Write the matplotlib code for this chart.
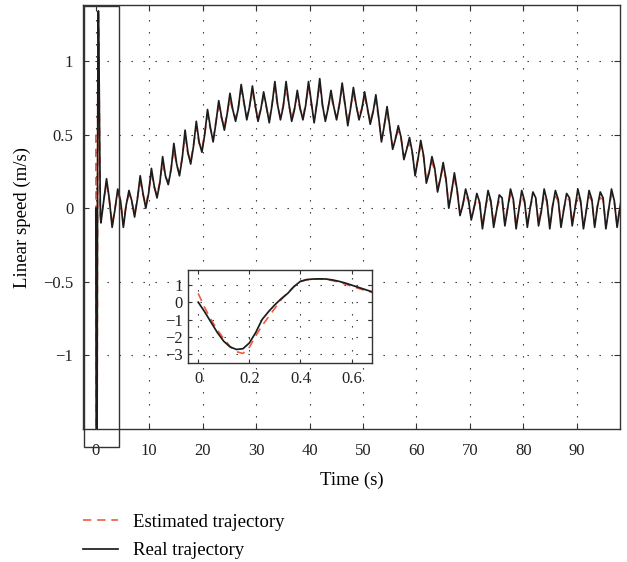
#!/usr/bin/env python3
import numpy as np
import matplotlib
matplotlib.use("Agg")
import matplotlib.pyplot as plt
from matplotlib.patches import Rectangle

# start-up transient (s)
t_start = [0.0, 0.025, 0.05, 0.075, 0.1, 0.125, 0.15, 0.175, 0.2, 0.225, 0.25, 0.275,
           0.3, 0.325, 0.35, 0.375, 0.4, 0.425, 0.45, 0.475, 0.5, 0.525, 0.55, 0.575,
           0.6, 0.625, 0.65, 0.675, 0.75, 0.85]
real_start = [0.0, -0.55, -1.15, -1.75, -2.25, -2.58, -2.72, -2.68, -2.35, -1.75, -1.0, -0.55,
              -0.15, 0.2, 0.5, 0.9, 1.2, 1.3, 1.33, 1.34, 1.33, 1.28, 1.2, 1.1,
              0.98, 0.86, 0.74, 0.62, 0.3, -0.05]
est_start = [0.5, -0.3, -1.0, -1.6, -2.1, -2.55, -2.85, -2.95, -2.6, -1.95, -1.35, -0.85,
             -0.35, 0.15, 0.55, 0.9, 1.18, 1.28, 1.32, 1.33, 1.31, 1.24, 1.15, 1.04,
             0.92, 0.8, 0.69, 0.58, 0.25, -0.04]

# after the transient: samples every 0.525 s starting at 0.95 s
osc_t0 = 0.95
osc_dt = 0.525
real_osc = [
    -0.10, 0.05, 0.20, 0.06, -0.13, -0.01, 0.13, 0.05, -0.13, 0.02, 0.12, 0.05,
    -0.06, 0.06, 0.22, 0.10, 0.00, 0.10, 0.27, 0.15, 0.07, 0.17, 0.35, 0.22,
    0.16, 0.26, 0.44, 0.30, 0.22, 0.34, 0.53, 0.38, 0.30, 0.42, 0.59, 0.45,
    0.38, 0.50, 0.67, 0.55, 0.45, 0.58, 0.73, 0.62, 0.53, 0.64, 0.78, 0.67,
    0.59, 0.68, 0.84, 0.72, 0.60, 0.69, 0.83, 0.70, 0.59, 0.67, 0.79, 0.69,
    0.58, 0.70, 0.86, 0.70, 0.60, 0.69, 0.86, 0.71, 0.59, 0.67, 0.80, 0.68,
    0.60, 0.70, 0.86, 0.72, 0.58, 0.71, 0.88, 0.70, 0.59, 0.68, 0.80, 0.69,
    0.60, 0.70, 0.85, 0.71, 0.56, 0.68, 0.82, 0.70, 0.60, 0.67, 0.79, 0.68,
    0.57, 0.65, 0.77, 0.62, 0.45, 0.56, 0.69, 0.55, 0.40, 0.47, 0.56, 0.48,
    0.33, 0.40, 0.48, 0.38, 0.22, 0.33, 0.46, 0.36, 0.17, 0.24, 0.35, 0.27,
    0.11, 0.20, 0.31, 0.20, 0.00, 0.11, 0.24, 0.12, -0.05, 0.02, 0.13, 0.06,
    -0.08, 0.00, 0.10, 0.04, -0.14, -0.01, 0.12, 0.05, -0.13, -0.02, 0.09, 0.07,
    -0.12, 0.00, 0.13, 0.06, -0.14, -0.01, 0.12, 0.05, -0.13, 0.00, 0.11, 0.07,
    -0.12, -0.02, 0.13, 0.05, -0.14, 0.01, 0.12, 0.06, -0.13, -0.01, 0.10, 0.07,
    -0.12, 0.00, 0.13, 0.05, -0.14, -0.02, 0.12, 0.06, -0.13, 0.01, 0.11, 0.07,
    -0.14, -0.01, 0.13, 0.05, -0.13, 0.00, 0.12,
]
est_osc = [
    -0.08, 0.06, 0.16, 0.05, -0.11, 0.00, 0.10, 0.05, -0.11, 0.03, 0.09, 0.04,
    -0.04, 0.07, 0.18, 0.09, 0.02, 0.11, 0.23, 0.14, 0.09, 0.18, 0.31, 0.21,
    0.18, 0.27, 0.40, 0.29, 0.24, 0.35, 0.49, 0.37, 0.32, 0.43, 0.55, 0.44,
    0.40, 0.51, 0.63, 0.54, 0.47, 0.59, 0.69, 0.61, 0.55, 0.65, 0.74, 0.66,
    0.61, 0.69, 0.80, 0.71, 0.62, 0.70, 0.79, 0.69, 0.61, 0.68, 0.75, 0.68,
    0.60, 0.71, 0.82, 0.69, 0.62, 0.70, 0.82, 0.70, 0.61, 0.68, 0.76, 0.67,
    0.62, 0.71, 0.82, 0.71, 0.60, 0.72, 0.84, 0.69, 0.61, 0.69, 0.76, 0.68,
    0.62, 0.71, 0.81, 0.70, 0.58, 0.69, 0.78, 0.69, 0.62, 0.68, 0.75, 0.67,
    0.59, 0.66, 0.73, 0.61, 0.47, 0.57, 0.65, 0.54, 0.42, 0.48, 0.52, 0.47,
    0.35, 0.41, 0.44, 0.37, 0.24, 0.34, 0.42, 0.35, 0.19, 0.25, 0.31, 0.26,
    0.13, 0.21, 0.27, 0.19, 0.02, 0.12, 0.20, 0.11, -0.03, 0.03, 0.09, 0.05,
    -0.06, 0.01, 0.06, 0.03, -0.12, 0.00, 0.08, 0.04, -0.11, -0.01, 0.05, 0.06,
    -0.10, 0.01, 0.09, 0.05, -0.12, 0.00, 0.08, 0.04, -0.11, 0.01, 0.07, 0.06,
    -0.10, -0.01, 0.09, 0.04, -0.12, 0.02, 0.08, 0.05, -0.11, 0.00, 0.06, 0.06,
    -0.10, 0.01, 0.09, 0.04, -0.12, -0.01, 0.08, 0.05, -0.11, 0.02, 0.07, 0.06,
    -0.12, 0.00, 0.09, 0.04, -0.11, 0.01, 0.08,
]

x_ticks = [0, 10, 20, 30, 40, 50, 60, 70, 80, 90]
y_ticks = [-1, -0.5, 0, 0.5, 1]
y_labels = ["\u22121", "\u22120.5", "0", "0.5", "1"]
inset_x_ticks = [0, 0.2, 0.4, 0.6]
inset_x_labels = ["0", "0.2", "0.4", "0.6"]
inset_y_ticks = [-3, -2, -1, 0, 1]
inset_y_labels = ["\u22123", "\u22122", "\u22121", "0", "1"]

RED = "#f05a3e"
BLACK = "#1c1c1c"
FRAME = "#333333"

plt.rcParams["font.family"] = ["Liberation Serif", "DejaVu Serif"]
plt.rcParams["font.size"] = 12

t_osc = osc_t0 + osc_dt * np.arange(len(real_osc))
t_all = np.concatenate([t_start, t_osc])
real_all = np.concatenate([real_start, real_osc])
est_all = np.concatenate([est_start, est_osc])

grid_style = dict(color="#222222", linestyle=(0, (1.2, 9.6)), linewidth=0.8)

fig = plt.figure(figsize=(6.27, 5.62), dpi=100)
ax = fig.add_axes([0.1324, 0.2366, 0.8565, 0.7545])

l_est, = ax.plot(t_all, est_all, color=RED, lw=1.2, dashes=(5, 3.5), label="Estimated trajectory")
l_real, = ax.plot(t_all, real_all, color=BLACK, lw=1.25, label="Real trajectory")

ax.set_xlim(-2.4, 98.1)
ax.set_ylim(-1.5, 1.38)
ax.set_xticks(x_ticks)
ax.set_yticks(y_ticks)
ax.set_yticklabels(y_labels)
ax.tick_params(direction="in", top=True, right=True, length=4, width=0.8, color=FRAME, labelcolor="#222222")
ax.tick_params(axis="x", pad=10)
ax.tick_params(axis="y", pad=7)
ax.grid(True, **grid_style)
for s in ax.spines.values():
    s.set_color(FRAME)
    s.set_linewidth(1.0)
ax.set_xlabel("Time (s)", fontsize=13.5, labelpad=9)
ax.set_ylabel("Linear speed (m/s)", fontsize=13.5, labelpad=9)

# box marking the zoomed region
ax.add_patch(Rectangle((-2.25, -1.62), 6.55, 2.99, fill=False, edgecolor=FRAME, lw=1.0, clip_on=False, zorder=5))

# inset with the start-up transient
axin = fig.add_axes([0.2998, 0.3541, 0.2935, 0.1655])
axin.plot(t_all, est_all, color=RED, lw=1.2, dashes=(5, 3.5))
axin.plot(t_all, real_all, color=BLACK, lw=1.25)
axin.set_xlim(-0.04, 0.68)
axin.set_ylim(-3.5, 1.85)
axin.set_xticks(inset_x_ticks)
axin.set_xticklabels(inset_x_labels)
axin.set_yticks(inset_y_ticks)
axin.set_yticklabels(inset_y_labels)
axin.tick_params(direction="in", top=True, right=True, length=3, width=0.8, color=FRAME, labelcolor="#222222")
axin.tick_params(axis="x", pad=6)
axin.tick_params(axis="y", pad=4)
axin.grid(True, **grid_style)
for s in axin.spines.values():
    s.set_color(FRAME)
    s.set_linewidth(1.0)

fig.legend(handles=[l_est, l_real], loc="upper left", bbox_to_anchor=(0.1324, 0.0858),
           frameon=False, borderpad=0, borderaxespad=0, handlelength=1.87, handletextpad=0.8,
           labelspacing=0.6, fontsize=13.5)

fig.savefig("out.png", dpi=100)
